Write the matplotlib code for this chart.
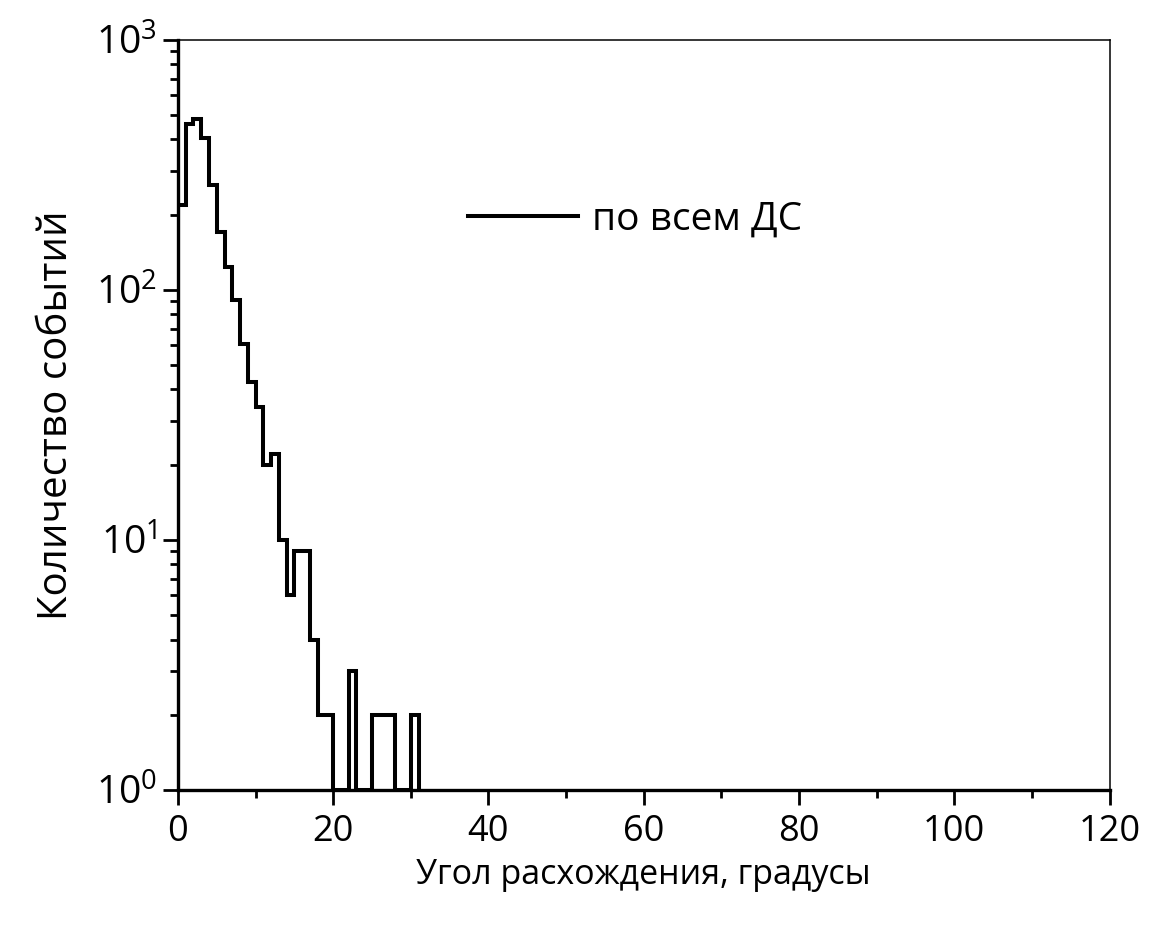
import numpy as np
import matplotlib
matplotlib.use("Agg")
import matplotlib.pyplot as plt
from matplotlib.ticker import LogLocator, FixedLocator, NullFormatter

plt.rcParams['font.family'] = ['Open Sans', 'DejaVu Sans']
plt.rcParams['mathtext.fontset'] = 'custom'
plt.rcParams['mathtext.rm'] = 'Open Sans'

# гистограмма угла расхождения, шаг 1 градус
bin_edges = np.arange(0, 32)
counts = [219, 461, 482, 404, 263, 171, 124, 91, 61, 43, 34, 20, 22, 10, 6,
          9, 9, 4, 2, 2, 1, 1, 3, 1, 1, 2, 2, 2, 1, 1, 2]
legend_label = "по всем ДС"
x_label = "Угол расхождения, градусы"
y_label = "Количество событий"

fig = plt.figure(figsize=(11.63, 9.30), dpi=100)
ax = fig.add_axes([0.153, 0.1505, 0.801, 0.8065])

ax.stairs(counts, bin_edges, color='black', linewidth=2.9, label=legend_label,
          baseline=1)

ax.set_yscale('log')
ax.set_xlim(0, 120)
ax.set_ylim(1, 1000)

ax.xaxis.set_major_locator(FixedLocator([0, 20, 40, 60, 80, 100, 120]))
ax.xaxis.set_minor_locator(FixedLocator([10, 30, 50, 70, 90, 110]))
ax.yaxis.set_major_locator(LogLocator(base=10, numticks=10))
ax.yaxis.set_minor_locator(LogLocator(base=10, subs=np.arange(2, 10), numticks=10))
ax.yaxis.set_minor_formatter(NullFormatter())
ax.set_yticklabels([r"$10^{%d}$" % int(np.log10(v)) for v in ax.get_yticks()])

ax.tick_params(axis='both', which='major', direction='out', length=11, width=2,
               top=False, right=False)
ax.tick_params(axis='x', which='major', labelsize=26, pad=6)
ax.tick_params(axis='y', which='major', labelsize=28, pad=4)
ax.tick_params(axis='both', which='minor', direction='out', length=5.5, width=2,
               top=False, right=False)

for s in ['left', 'bottom']:
    ax.spines[s].set_linewidth(2.4)
for s in ['top', 'right']:
    ax.spines[s].set_linewidth(1.1)

ax.set_xlabel(x_label, fontsize=24.5, labelpad=6)
ax.set_ylabel(y_label, fontsize=29, labelpad=14)

ax.legend(loc='center left', bbox_to_anchor=(0.311, 0.761), frameon=False,
          fontsize=28, handlelength=2.83, handletextpad=0.36,
          borderpad=0, borderaxespad=0)

fig.savefig("out.png", dpi=100)
